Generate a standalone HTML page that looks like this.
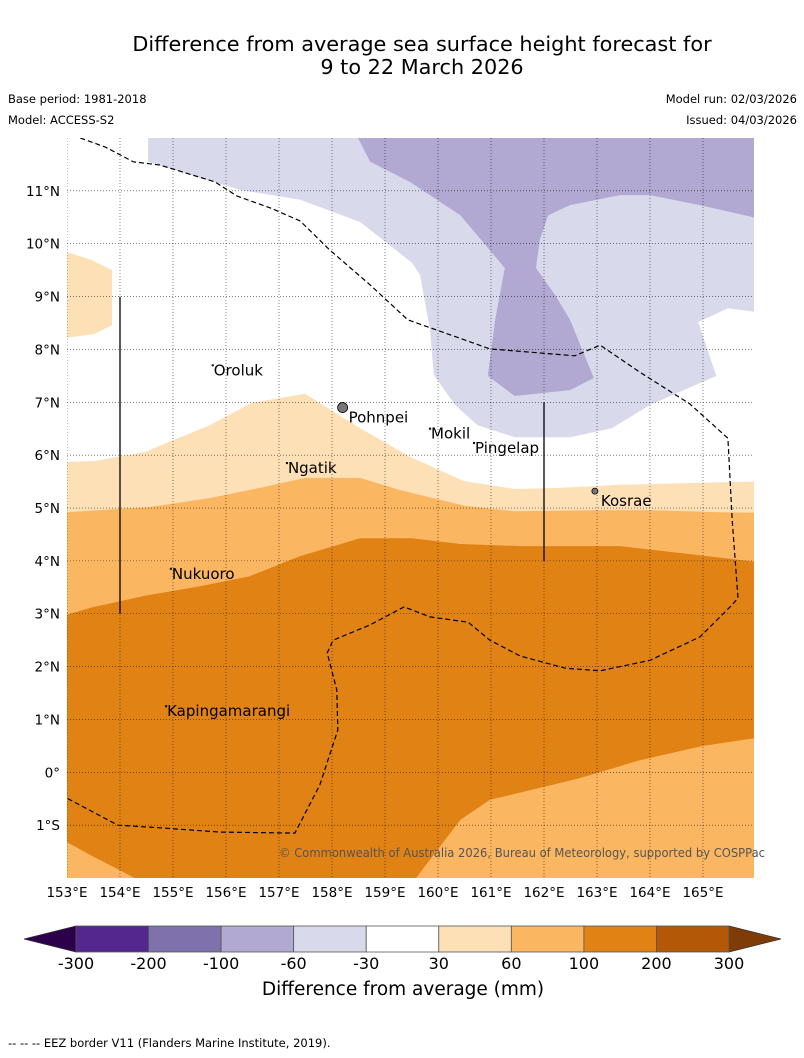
<!DOCTYPE html>
<html><head><meta charset="utf-8"><style>
body{margin:0;background:#fff;width:804px;height:1058px;overflow:hidden;font-family:"DejaVu Sans","Liberation Sans",sans-serif;}
svg{display:block}
</style></head><body>
<svg id="svg" width="804" height="1058" xmlns="http://www.w3.org/2000/svg">
<text x="422" y="51" text-anchor="middle" font-size="20.8">Difference from average sea surface height forecast for</text>
<text x="422" y="74" text-anchor="middle" font-size="20.8">9 to 22 March 2026</text>
<text x="8" y="103" font-size="11.5">Base period: 1981-2018</text>
<text x="8" y="124" font-size="11.5">Model: ACCESS-S2</text>
<text x="797" y="103" font-size="11.5" text-anchor="end">Model run: 02/03/2026</text>
<text x="797" y="124" font-size="11.5" text-anchor="end">Issued: 04/03/2026</text>
<defs><clipPath id="mapclip"><rect x="67" y="138" width="687" height="740"/></clipPath></defs>
<g id="map" clip-path="url(#mapclip)"></g>
<text x="279" y="857" font-size="12" fill="#555" textLength="486" lengthAdjust="spacingAndGlyphs">© Commonwealth of Australia 2026, Bureau of Meteorology, supported by COSPPac</text>
<g id="axes"></g>
<g id="cbar"></g>
<text x="403" y="995" text-anchor="middle" font-size="18.5">Difference from average (mm)</text>
<text x="8" y="1047" font-size="11.5">--  --  -- EEZ border V11 (Flanders Marine Institute, 2019).</text>
</svg>
<script>
const lonTicks=[153,154,155,156,157,158,159,160,161,162,163,164,165];
const latTicks=[11,10,9,8,7,6,5,4,3,2,1,0,-1];
const latLabels=["11°N","10°N","9°N","8°N","7°N","6°N","5°N","4°N","3°N","2°N","1°N","0°","1°S"];
const cbBounds=[-300,-200,-100,-60,-30,30,60,100,200,300];
const cbColors=["#54278f","#7f71ab","#b1a9d1","#d8d9ea","#ffffff","#fee0b6","#fbb661","#e08214","#b35806"];
const lightPurple=[[154.53,12],[166,12],[166,8.71],[165.47,8.78],[164.91,8.52],[165.25,7.5],[164,6.95],[163.28,6.51],[162.49,6.34],[161.45,6.34],[160.74,6.57],[160.32,6.95],[159.92,7.52],[159.85,8.37],[159.66,9.41],[159.51,9.64],[158.53,10.41],[157.4,10.83],[156.26,11.02],[155.13,11.36],[154.53,11.55]];
const midPurple=[[158.49,12],[166,12],[166,10.49],[164.94,10.73],[164,10.92],[163.43,10.92],[162.49,10.73],[162.08,10.54],[161.92,10.07],[161.85,9.54],[162.21,9.03],[162.49,8.56],[162.94,7.46],[162.49,7.23],[161.45,7.12],[160.94,7.5],[161.08,8.56],[161.26,9.54],[160.42,10.54],[159.47,11.17],[158.72,11.55]];
const lightOrange=[[153,5.87],[153.53,5.89],[154.47,6.06],[155.7,6.57],[156.49,6.99],[157.49,7.16],[158.53,6.51],[159.47,5.97],[160.49,5.51],[161.45,5.36],[162.3,5.38],[163.43,5.44],[164.57,5.47],[166,5.5],[166,-2.1],[153,-2.1]];
const lightOrangePatch=[[153,9.84],[153.47,9.69],[153.85,9.5],[153.85,8.46],[153.51,8.29],[153,8.22]];
const orange60=[[153,4.92],[154.57,5.02],[155.7,5.19],[156.64,5.38],[157.49,5.57],[158.53,5.57],[159.28,5.34],[160.51,5.04],[161.45,4.94],[163.06,4.96],[164,4.96],[165.32,4.92],[166,4.91],[166,-2.1],[153,-2.1]];
const orange100=[[153,2.98],[153.43,3.11],[154.47,3.34],[155.51,3.52],[156.45,3.71],[157.4,4.09],[158.53,4.43],[159.51,4.43],[160.42,4.32],[161.55,4.28],[163.43,4.28],[164.57,4.15],[166,3.98],[166,0.65],[165,0.5],[163.81,0.23],[162.68,-0.11],[160.98,-0.52],[160.42,-0.9],[159.51,-2.1],[154.47,-2.1],[153.43,-1.56],[153,-1.32]];
const eez=[[153.25,12],[153.72,11.83],[154.25,11.55],[154.75,11.49],[155.79,11.17],[156.21,10.9],[156.83,10.68],[157.4,10.43],[157.96,9.88],[158.72,9.22],[159.43,8.56],[160.98,8.01],[162.58,7.88],[163.06,8.08],[163.81,7.57],[164.75,6.97],[165.47,6.32],[165.55,4.77],[165.66,3.3],[165.55,3.17],[164.94,2.56],[164,2.12],[163.06,1.92],[162.4,1.97],[161.55,2.2],[160.98,2.5],[160.57,2.84],[159.85,2.94],[159.36,3.13],[158.72,2.79],[158.02,2.5],[157.91,2.26],[158.09,1.56],[158.11,0.8],[157.77,-0.24],[157.3,-1.15],[155.89,-1.13],[154.75,-1.05],[153.96,-1],[153,-0.49]];
const islandNames=["Oroluk","Pohnpei","Mokil","Pingelap","Ngatik","Kosrae","Nukuoro","Kapingamarangi"];
const islandLon=[155.75,158.2,159.85,160.68,157.15,162.96,154.96,154.87];
const islandLat=[7.7,6.9,6.5,6.23,5.85,5.32,3.85,1.25];
const boundaryLines=[[[154,9],[154,3]],[[162,7],[162,4]]];

const NS="http://www.w3.org/2000/svg";
const X=lon=>67+(lon-153)*53;
const Y=lat=>138+(12-lat)*52.86;
function mk(tag,attrs,parent){const e=document.createElementNS(NS,tag);for(const k in attrs)e.setAttribute(k,attrs[k]);parent.appendChild(e);return e;}
const map=document.getElementById('map'),axes=document.getElementById('axes'),cbar=document.getElementById('cbar');
const pts=a=>a.map(p=>X(p[0]).toFixed(1)+','+Y(p[1]).toFixed(1)).join(' ');
function poly(a,fill,name){const e=mk('polygon',{points:pts(a),fill:fill},map);

}
poly(lightPurple,cbColors[3],'contour-minus60-minus30');
poly(midPurple,cbColors[2],'contour-minus100-minus60');
poly(lightOrange,cbColors[5],'contour-30-60');
poly(lightOrangePatch,cbColors[5],'contour-30-60-patch');
poly(orange60,cbColors[6],'contour-60-100');
poly(orange100,cbColors[7],'contour-100-200');
lonTicks.forEach(l=>{const e=mk('line',{x1:X(l),x2:X(l),y1:138,y2:878,stroke:'#000','stroke-width':0.6,'stroke-dasharray':'1,2','stroke-opacity':0.8},map);

});
latTicks.forEach(l=>{const e=mk('line',{x1:67,x2:754,y1:Y(l),y2:Y(l),stroke:'#000','stroke-width':0.6,'stroke-dasharray':'1,2','stroke-opacity':0.8},map);

});
const ez=mk('polyline',{points:pts(eez),fill:'none',stroke:'#000','stroke-width':1.2,'stroke-dasharray':'5,3'},map);


boundaryLines.forEach(b=>{const e=mk('line',{x1:X(b[0][0]),y1:Y(b[0][1]),x2:X(b[1][0]),y2:Y(b[1][1]),stroke:'#000','stroke-width':1.3},map);

});
islandNames.forEach((n,i)=>{const x=X(islandLon[i]),y=Y(islandLat[i]);
const big=(n==='Pohnpei'||n==='Kosrae');
const d=mk('circle',{cx:x,cy:y,r:big?(n==='Pohnpei'?5:3):0.8,fill:'#777',stroke:'#000','stroke-width':0.8},map);


const t=mk('text',{x:x+(big?6:1),y:y+(big?15:10),'font-size':15},map);t.textContent=n;

});
lonTicks.forEach(l=>{const t=mk('text',{x:X(l),y:897,'text-anchor':'middle','font-size':13.5},axes);t.textContent=l+'°E';

});
latTicks.forEach((l,i)=>{const t=mk('text',{x:60,y:Y(l)+5,'text-anchor':'end','font-size':13.5},axes);t.textContent=latLabels[i];

});
const cx0=76,cx1=729,cy=926,ch=26,n=cbColors.length,w=(cx1-cx0)/n;
const lt=mk('polygon',{points:`${cx0},${cy} 24,${cy+ch/2} ${cx0},${cy+ch}`,fill:'#2d004b',stroke:'#333','stroke-width':0.8},cbar);


const rt=mk('polygon',{points:`${cx1},${cy} 781,${cy+ch/2} ${cx1},${cy+ch}`,fill:'#7f3b08',stroke:'#333','stroke-width':0.8},cbar);


cbColors.forEach((c,i)=>{const r=mk('rect',{x:cx0+i*w,y:cy,width:w,height:ch,fill:c,stroke:'#555','stroke-width':0.8},cbar);

});
cbBounds.forEach((b,i)=>{const t=mk('text',{x:cx0+i*w,y:969,'text-anchor':'middle','font-size':16},cbar);t.textContent=b;

});
</script>
</body></html>
